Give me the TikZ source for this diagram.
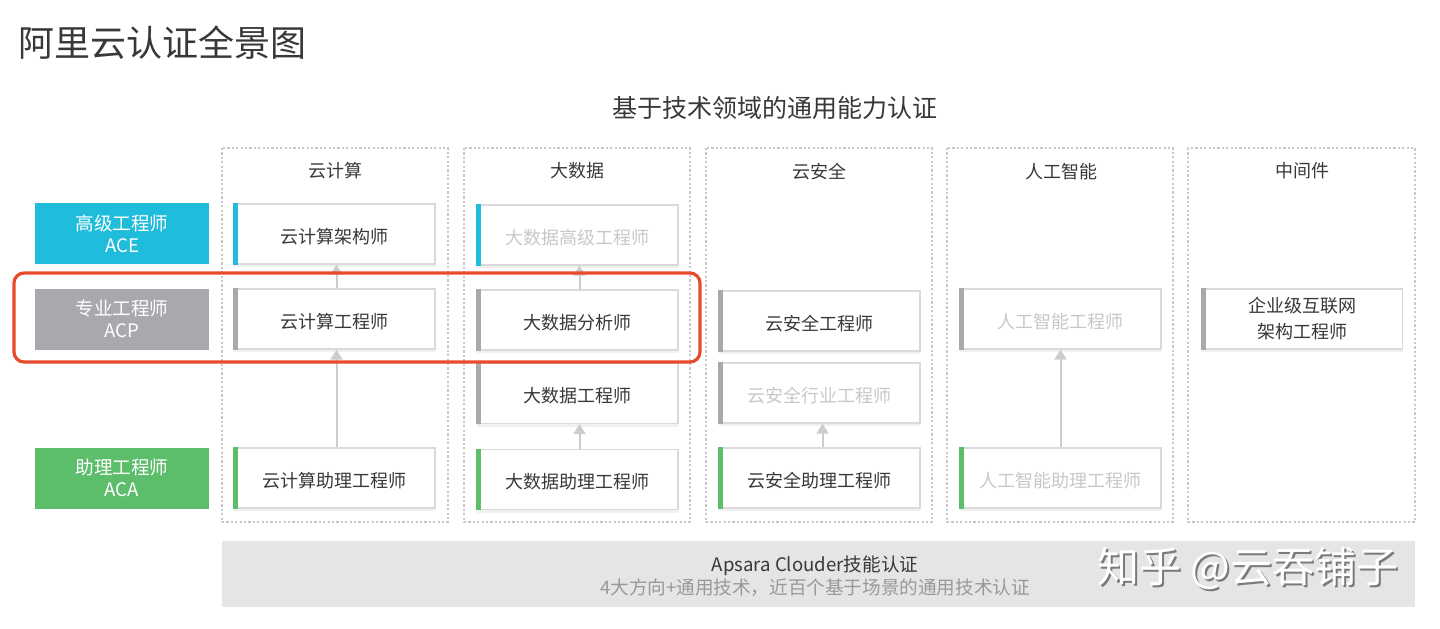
\documentclass[tikz,border=0pt]{standalone}
\usepackage{fontspec}
\newfontfamily\cjk{Noto Sans CJK SC}
\usetikzlibrary{shadows,arrows.meta}
\definecolor{txt}{HTML}{383838}
\definecolor{faded}{HTML}{C8C8C8}
\definecolor{boxline}{HTML}{DADADA}
\definecolor{dotline}{HTML}{C8C8C8}
\definecolor{acec}{HTML}{1FBCDB}
\definecolor{acpc}{HTML}{A7A9AC}
\definecolor{acac}{HTML}{5CBD6B}
\definecolor{hlred}{HTML}{E84A2C}
\definecolor{barbg}{HTML}{E5E5E5}
\definecolor{bartxt}{HTML}{999999}
\definecolor{arrc}{HTML}{CCCCCC}
\definecolor{wmshadow}{HTML}{7A7A7A}
\begin{document}
\begin{tikzpicture}[x=0.5pt,y=-0.5pt,
  certbase/.style={draw=boxline, fill=white, line width=0.6pt, minimum width=100.5pt,
    minimum height=30pt, inner sep=0pt, text=txt, align=center,
    font=\cjk\fontsize{9}{13}\selectfont,
    drop shadow={shadow xshift=0pt, shadow yshift=-1.5pt, opacity=0.06, fill=black}},
  cert/.style={certbase, text height=10.3pt, text depth=1pt},
  fadedcert/.style={cert, text=faded},
  level/.style={minimum width=87pt, minimum height=30.5pt, inner sep=0pt, text=white,
    align=center, font=\cjk\fontsize{9.3}{11}\selectfont},
  colbox/.style={draw=dotline, line width=1.1pt, dash pattern=on 1.1pt off 1.1pt},
  colhead/.style={text=txt, font=\cjk\fontsize{9}{11}\selectfont},
  arr/.style={draw=arrc, line width=1pt, -{Triangle[width=6pt,length=5pt]}},
]
\useasboundingbox (0,0) rectangle (1440,628);

% title
\node[anchor=west, text=txt, font=\cjk\fontsize{18}{20}\selectfont, inner sep=0pt] (title) at (18,43) {阿里云认证全景图};
\node[text=txt, font=\cjk\fontsize{12.5}{14}\selectfont, inner sep=0pt] (subtitle) at (775,108) {基于技术领域的通用能力认证};

% columns
\draw[colbox] (222,148) rectangle (448,522);
\draw[colbox] (464,148) rectangle (690,522);
\draw[colbox] (706,148) rectangle (932,522);
\draw[colbox] (947,148) rectangle (1173,522);
\draw[colbox] (1188,148) rectangle (1415,522);
\node[colhead] (h1) at (335,171) {云计算};
\node[colhead] (h2) at (577,171) {大数据};
\node[colhead] (h3) at (819,172) {云安全};
\node[colhead] (h4) at (1061,172) {人工智能};
\node[colhead] (h5) at (1302,171) {中间件};

% levels
\node[level, fill=acec] (ace) at (122,233.5) {高级工程师\\ACE};
\node[level, fill=acpc] (acp) at (122,319) {专业工程师\\ACP};
\node[level, fill=acac] (aca) at (122,478) {助理工程师\\ACA};

% certificates
\node[cert] (c1a) at (334.5,234) {云计算架构师};
\node[cert] (c1b) at (334.5,319) {云计算工程师};
\node[cert] (c1c) at (334.5,478) {云计算助理工程师};

\node[fadedcert] (c2a) at (577.5,235) {大数据高级工程师};
\node[cert] (c2b) at (577.5,320) {大数据分析师};
\node[cert] (c2c) at (577.5,393.5) {大数据工程师};
\node[cert] (c2d) at (577.5,479.5) {大数据助理工程师};

\node[cert] (c3a) at (819.5,321) {云安全工程师};
\node[fadedcert] (c3b) at (819.5,393) {云安全行业工程师};
\node[cert] (c3c) at (819.5,478) {云安全助理工程师};

\node[fadedcert] (c4a) at (1060.5,319) {人工智能工程师};
\node[fadedcert] (c4b) at (1060.5,478) {人工智能助理工程师};

\node[certbase] (c5a) at (1302,319) {企业级互联网\\架构工程师};

% left colour bars
\foreach \n/\c in {c1a/acec, c1b/acpc, c1c/acac, c2a/acec, c2b/acpc, c2c/acpc, c2d/acac,
                   c3a/acpc, c3b/acpc, c3c/acac, c4a/acpc, c4b/acac, c5a/acpc}
  \fill[\c] (\n.north west) rectangle ([xshift=2.5pt]\n.south west);

% arrows
\draw[arr] ([xshift=1pt]c1b.north) -- ([xshift=1pt]c1a.south);
\draw[arr] ([xshift=1pt]c1c.north) -- ([xshift=1pt]c1b.south);
\draw[arr] ([xshift=1pt]c2b.north) -- ([xshift=1pt]c2a.south);
\draw[arr] ([xshift=1pt]c2d.north) -- ([xshift=1pt]c2c.south);
\draw[arr] ([xshift=1.5pt]c3c.north) -- ([xshift=1.5pt]c3b.south);
\draw[arr] (c4b.north) -- (c4a.south);

% highlight
\draw[hlred, line width=1.6pt, rounded corners=5pt] (14,273) rectangle (700,362);

% bottom bar
\node[fill=barbg, minimum width=596.5pt, minimum height=33pt, inner sep=0pt] (bar) at (818.5,574) {};
\node[align=center, text=txt, font=\cjk\fontsize{9.3}{11.5}\selectfont, inner sep=0pt] (bartext) at (815,576.5)
  {Apsara Clouder技能认证\\{\color{bartxt}4大方向+通用技术，近百个基于场景的通用技术认证}};

% watermark
\node[text=white, font=\cjk\fontsize{21}{22}\selectfont, inner sep=0pt] (wm) at (1248,569)
  {\makebox[0pt][l]{\hspace{1pt}\raisebox{-1pt}{\color{wmshadow}知乎 @云吞铺子}}知乎 @云吞铺子};
\end{tikzpicture}
\end{document}
